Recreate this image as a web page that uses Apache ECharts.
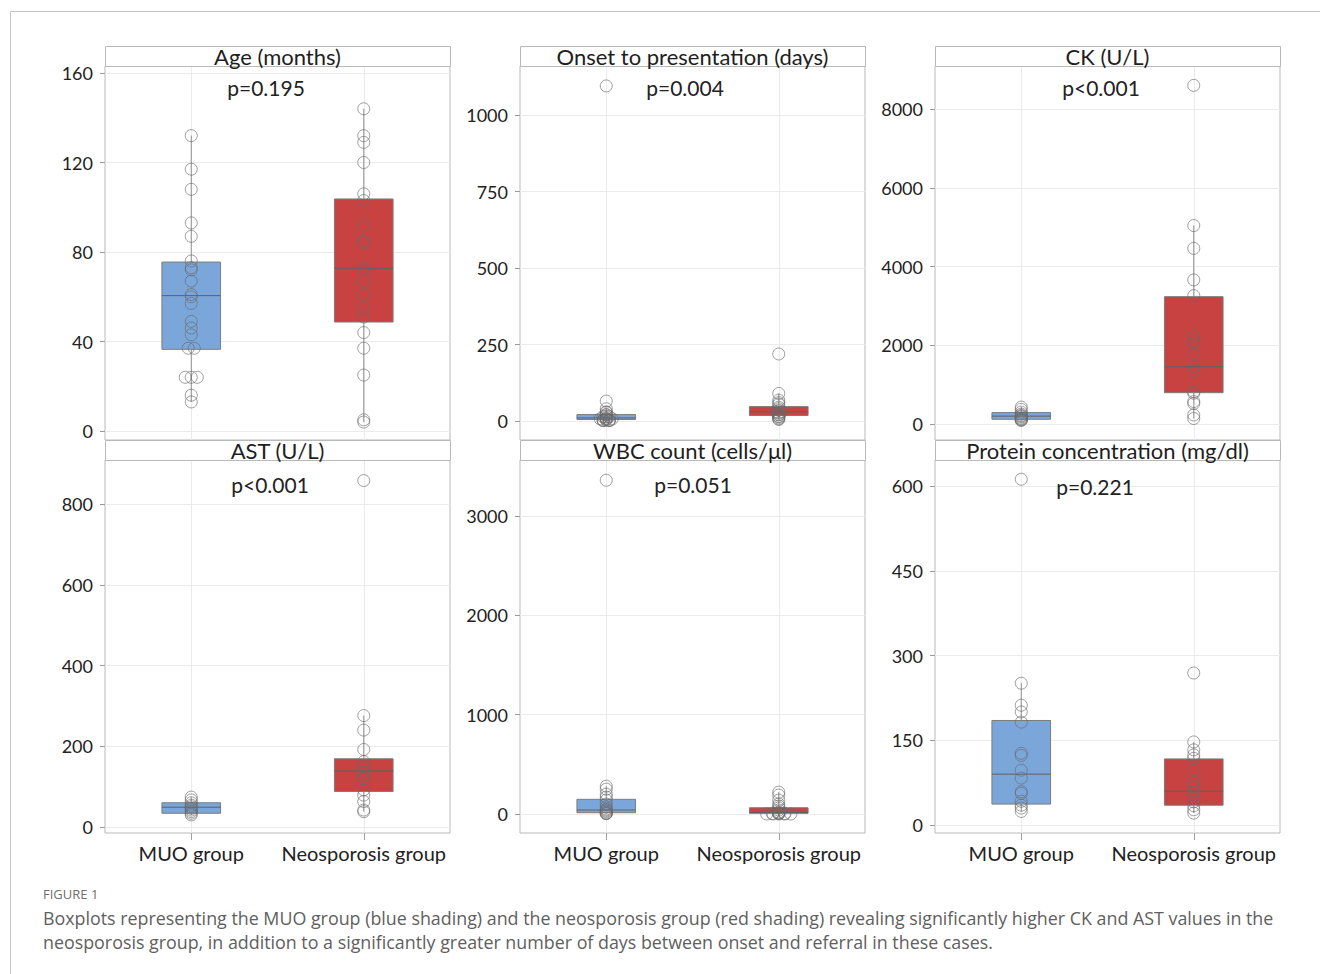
<!DOCTYPE html>
<html>
<head>
<meta charset="utf-8">
<script src="https://cdn.jsdelivr.net/npm/echarts@6/dist/echarts.min.js"></script>
<style>
html,body{margin:0;padding:0;background:#fff;}
#chart{width:1320px;height:974px;}
</style>
</head>
<body>
<div id="chart"></div>
<script>
// ---------------- data ----------------
const categories = ['MUO group', 'Neosporosis group'];
const panelTitles = ['Age (months)', 'Onset to presentation (days)', 'CK (U/L)', 'AST (U/L)', 'WBC count (cells/\u03bcl)', 'Protein concentration (mg/dl)'];
const pValues = ['p=0.195', 'p=0.004', 'p<0.001', 'p<0.001', 'p=0.051', 'p=0.221'];
const yMax = [160, 1000, 8000, 800, 3000, 600];
const yInterval = [40, 250, 2000, 200, 1000, 150];

// box stats: [lower whisker, Q1, median, Q3, upper whisker]
const ageBoxMUO = [13, 36.5, 60.5, 75.5, 132];
const ageBoxNeo = [4, 48.7, 72.7, 103.7, 144];
const onsetBoxMUO = [1, 5, 10, 21, 40];
const onsetBoxNeo = [5, 18, 30, 47, 90];
const ckBoxMUO = [90, 120, 200, 290, 430];
const ckBoxNeo = [140, 795, 1456, 3234, 5040];
const astBoxMUO = [30, 34, 49, 60, 74];
const astBoxNeo = [38, 88, 139, 169, 276];
const wbcBoxMUO = [3, 13, 40, 148, 280];
const wbcBoxNeo = [0, 7, 15, 63, 220];
const proteinBoxMUO = [24, 37, 90, 185, 251];
const proteinBoxNeo = [21, 35, 60, 117, 147];

// individual observations
const ageMUO = [132, 117, 108, 93, 87, 76, 73, 72, 67, 61, 60, 57, 49, 46, 43, 37, 37, 24, 24, 24, 16, 13];
const ageNeo = [144, 132, 129, 120, 106, 103, 92, 85, 84, 73, 72, 67, 61, 55, 51, 44, 37, 25, 5, 4];
const onsetMUO = [1095, 65, 40, 30, 28, 21, 20, 15, 14, 14, 10, 7, 7, 7, 5, 4, 3, 3, 2, 2, 1, 1];
const onsetNeo = [219, 90, 68, 60, 55, 45, 40, 35, 30, 30, 28, 25, 21, 20, 15, 14, 10, 7, 5];
const ckMUO = [430, 370, 300, 250, 220, 200, 180, 150, 130, 110, 100, 90];
const ckNeo = [8600, 5040, 4460, 3660, 3260, 2240, 2110, 2050, 1780, 1470, 1350, 820, 780, 570, 520, 230, 140];
const astMUO = [74, 67, 60, 54, 50, 46, 42, 38, 34, 30];
const astNeo = [858, 276, 240, 192, 162, 149, 137, 126, 120, 92, 79, 63, 42, 38];
const wbcMUO = [3360, 280, 250, 200, 170, 140, 100, 70, 50, 40, 30, 20, 10, 5, 3];
const wbcNeo = [220, 190, 140, 100, 80, 60, 40, 20, 10, 8, 5, 5, 5, 0, 0, 0, 0, 0];
const proteinMUO = [612, 251, 212, 200, 182, 127, 123, 97, 83, 59, 56, 42, 35, 30, 24];
const proteinNeo = [269, 147, 133, 124, 118, 97, 77, 68, 59, 52, 41, 34, 27, 21];

const boxes = [
  [ageBoxMUO, ageBoxNeo], [onsetBoxMUO, onsetBoxNeo], [ckBoxMUO, ckBoxNeo],
  [astBoxMUO, astBoxNeo], [wbcBoxMUO, wbcBoxNeo], [proteinBoxMUO, proteinBoxNeo]
];
const points = [
  [ageMUO, ageNeo], [onsetMUO, onsetNeo], [ckMUO, ckNeo],
  [astMUO, astNeo], [wbcMUO, wbcNeo], [proteinMUO, proteinNeo]
];

// ---------------- layout & style ----------------
const FONT = 'Lato, "Noto Sans", sans-serif';
const CAPTION_FONT = '"Open Sans", "Noto Sans", sans-serif';
const colLeft = [105, 520, 935];
const panelW = 345;
const frameTop = [66, 460];
const frameBottom = [440, 833];
const stripH = 20;
const tickTop = [73, 115, 109, 504, 516, 486];
const tickBottom = [431, 421, 424, 827, 814, 825];
const pPos = [[266, 87], [685, 87], [1101, 87], [270, 484], [693, 484], [1095, 486]];
const BOX_COLORS = ['#7ba6da', '#c94242'];
const BOX_WIDTH = 0.34;
const DODGE = 0.035;

const grids = [], xAxes = [], yAxes = [], series = [], graphics = [];

// outer figure border
graphics.push({type: 'rect', shape: {x: 10.5, y: 11.5, width: 1400, height: 1100},
  style: {fill: 'none', stroke: '#c4c4c4', lineWidth: 1}, z: 0});

// group k is centred at k + 0.5 on a 0..2 value axis
function dodge(vals, k) {
  const counts = {}, seen = {};
  vals.forEach(v => { counts[v] = (counts[v] || 0) + 1; });
  return vals.map(v => {
    const n = seen[v] || 0; seen[v] = n + 1;
    const off = (n - (counts[v] - 1) / 2) * DODGE;
    return [k + 0.5 + off, v];
  });
}

function renderBox(params, api) {
  const x = api.value(0);
  const lo = api.coord([x, api.value(1)]);
  const q1 = api.coord([x, api.value(2)]);
  const md = api.coord([x, api.value(3)]);
  const q3 = api.coord([x, api.value(4)]);
  const hi = api.coord([x, api.value(5)]);
  const w = api.size([BOX_WIDTH, 0])[0];
  const cx = lo[0];
  return {type: 'group', children: [
    {type: 'line', shape: {x1: cx, y1: q1[1], x2: cx, y2: lo[1]}, style: {stroke: '#8f8f8f', lineWidth: 1}},
    {type: 'line', shape: {x1: cx, y1: q3[1], x2: cx, y2: hi[1]}, style: {stroke: '#8f8f8f', lineWidth: 1}},
    {type: 'rect', shape: {x: cx - w / 2, y: q3[1], width: w, height: q1[1] - q3[1]},
      style: {fill: BOX_COLORS[params.dataIndex], stroke: '#7c7c7c', lineWidth: 1}},
    {type: 'line', shape: {x1: cx - w / 2, y1: md[1], x2: cx + w / 2, y2: md[1]}, style: {stroke: '#5f5f5f', lineWidth: 1}}
  ]};
}

for (let i = 0; i < 6; i++) {
  const row = Math.floor(i / 3), col = i % 3;
  const left = colLeft[col];
  const fTop = frameTop[row], fBot = frameBottom[row];
  const gFrame = grids.length;
  grids.push({left: left, top: fTop, width: panelW, height: fBot - fTop, show: true,
    borderColor: '#b9b9b9', borderWidth: 1, backgroundColor: 'rgba(0,0,0,0)', containLabel: false});
  xAxes.push({gridIndex: gFrame, type: 'category', data: categories, boundaryGap: true,
    axisLine: {show: false},
    axisTick: {show: row === 1, alignWithLabel: true, length: 7, lineStyle: {color: '#a0a0a0'}},
    axisLabel: {show: row === 1, interval: 0, hideOverlap: false, fontFamily: FONT, fontSize: 20, color: '#222', margin: 10},
    splitLine: {show: true, alignWithLabel: true, lineStyle: {color: '#ebebeb', width: 1}}});
  yAxes.push({gridIndex: gFrame, type: 'value', show: false, min: 0, max: 1});

  const gMain = grids.length;
  grids.push({left: left, top: tickTop[i], width: panelW, height: tickBottom[i] - tickTop[i], show: false, containLabel: false});
  const xMain = xAxes.length;
  xAxes.push({gridIndex: gMain, type: 'value', min: 0, max: 2, show: false,
    axisLine: {onZero: false}, splitLine: {show: false}});
  const yMain = yAxes.length;
  yAxes.push({gridIndex: gMain, type: 'value', min: 0, max: yMax[i], interval: yInterval[i], position: 'left',
    axisLine: {show: false, onZero: false},
    axisTick: {show: true, length: 5, lineStyle: {color: '#9a9a9a'}},
    axisLabel: {fontFamily: FONT, fontSize: 18, color: '#222', margin: 12, formatter: v => String(v)},
    splitLine: {show: true, lineStyle: {color: '#ebebeb', width: 1}}});

  series.push({type: 'custom', xAxisIndex: xMain, yAxisIndex: yMain, renderItem: renderBox, clip: false, z: 2,
    silent: true, encode: {x: 0, y: [1, 2, 3, 4, 5]},
    data: boxes[i].map((b, k) => [k + 0.5].concat(b))});
  for (let k = 0; k < 2; k++) {
    series.push({type: 'scatter', xAxisIndex: xMain, yAxisIndex: yMain, clip: false, z: 3, silent: true,
      symbol: 'circle', symbolSize: 12,
      itemStyle: {color: 'rgba(255,255,255,0)', borderColor: 'rgba(105,105,105,0.8)', borderWidth: 1},
      data: dodge(points[i][k], k)});
  }

  // strip with panel title
  const sTop = fTop - stripH;
  graphics.push({type: 'rect', shape: {x: left + 0.5, y: sTop + 0.5, width: panelW, height: stripH},
    style: {fill: '#fff', stroke: '#b9b9b9', lineWidth: 1}, z: 5});
  graphics.push({type: 'text', x: left + panelW / 2, y: sTop + 10, z: 6,
    style: {text: panelTitles[i], fill: '#1e1e1e', font: '22px ' + FONT, align: 'center', verticalAlign: 'middle'}});
  graphics.push({type: 'text', x: pPos[i][0], y: pPos[i][1], z: 6,
    style: {text: pValues[i], fill: '#222', font: '21px ' + FONT, align: 'center', verticalAlign: 'middle'}});
}

// caption
graphics.push({type: 'text', x: 43, y: 894, z: 6,
  style: {text: 'FIGURE 1', fill: '#6e6e6e', font: '13px ' + CAPTION_FONT, align: 'left', verticalAlign: 'middle'}});
graphics.push({type: 'text', x: 43, y: 918, z: 6,
  style: {text: 'Boxplots representing the MUO group (blue shading) and the neosporosis group (red shading) revealing significantly higher CK and AST values in the', fill: '#606060', font: '17.85px ' + CAPTION_FONT, align: 'left', verticalAlign: 'middle'}});
graphics.push({type: 'text', x: 43, y: 942, z: 6,
  style: {text: 'neosporosis group, in addition to a significantly greater number of days between onset and referral in these cases.', fill: '#606060', font: '17.85px ' + CAPTION_FONT, align: 'left', verticalAlign: 'middle'}});

const chart = echarts.init(document.getElementById('chart'), null, {renderer: 'svg'});
chart.setOption({
  animation: false,
  backgroundColor: '#fff',
  grid: grids,
  xAxis: xAxes,
  yAxis: yAxes,
  series: series,
  graphic: {elements: graphics}
});
</script>
</body>
</html>
